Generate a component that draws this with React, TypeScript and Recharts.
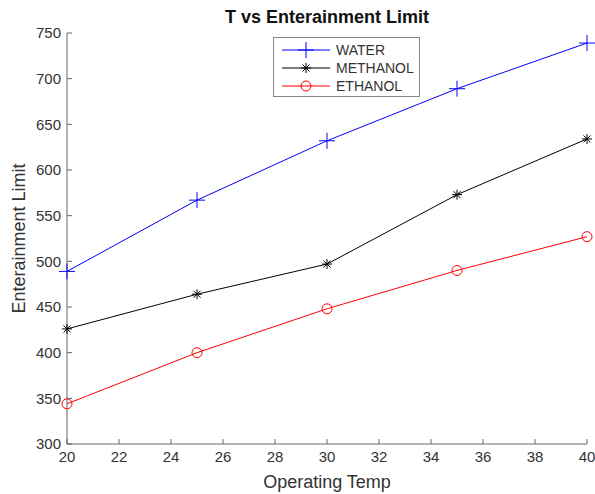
import { CartesianGrid, Line, LineChart, XAxis, YAxis } from "recharts";

const temps = [20, 25, 30, 35, 40];
const water = [489, 567, 632, 689, 739];
const methanol = [426, 464, 497, 573, 634];
const ethanol = [344, 400, 448, 490, 527];
const xTicks = [20, 22, 24, 26, 28, 30, 32, 34, 36, 38, 40];
const yTicks = [300, 350, 400, 450, 500, 550, 600, 650, 700, 750];

const data = temps.map((t, i) => ({
  temp: t,
  water: water[i],
  methanol: methanol[i],
  ethanol: ethanol[i],
}));

type Marker = "plus" | "star" | "circle";

const series: { key: string; name: string; color: string; marker: Marker }[] = [
  { key: "water", name: "WATER", color: "#0000ff", marker: "plus" },
  { key: "methanol", name: "METHANOL", color: "#000000", marker: "star" },
  { key: "ethanol", name: "ETHANOL", color: "#ff0000", marker: "circle" },
];

const FONT = "'Liberation Sans', Arial, sans-serif";
const AXIS = "#666666";
const TEXT = "#333333";

function MarkerShape({ cx, cy, color, marker }: { cx: number; cy: number; color: string; marker: Marker }) {
  if (marker === "plus") {
    return (
      <g stroke={color} strokeWidth={1}>
        <line x1={cx - 8} y1={cy} x2={cx + 8} y2={cy} />
        <line x1={cx} y1={cy - 8} x2={cx} y2={cy + 8} />
      </g>
    );
  }
  if (marker === "star") {
    return (
      <g stroke={color} strokeWidth={1}>
        <line x1={cx - 5} y1={cy} x2={cx + 5} y2={cy} />
        <line x1={cx} y1={cy - 5} x2={cx} y2={cy + 5} />
        <line x1={cx - 3.5} y1={cy - 3.5} x2={cx + 3.5} y2={cy + 3.5} />
        <line x1={cx - 3.5} y1={cy + 3.5} x2={cx + 3.5} y2={cy - 3.5} />
      </g>
    );
  }
  return <circle cx={cx} cy={cy} r={5} fill="none" stroke={color} strokeWidth={1} />;
}

function makeDot(color: string, marker: Marker) {
  return (props: any) => (
    <MarkerShape key={props.key ?? `${props.index}`} cx={props.cx} cy={props.cy} color={color} marker={marker} />
  );
}

function LegendBox() {
  return (
    <div
      style={{
        position: "absolute",
        left: 273,
        top: 37,
        width: 147,
        height: 60,
        border: "1px solid #888",
        background: "#fff",
        fontFamily: FONT,
        fontSize: 14,
        color: TEXT,
        boxSizing: "border-box",
      }}
    >
      {series.map((s, i) => (
        <div
          key={s.key}
          style={{ position: "absolute", left: 0, top: 3 + i * 18, height: 18, display: "flex", alignItems: "center" }}
        >
          <svg width={60} height={18}>
            <line x1={8} y1={9} x2={56} y2={9} stroke={s.color} strokeWidth={1} />
            <MarkerShape cx={32} cy={9} color={s.color} marker={s.marker} />
          </svg>
          <span style={{ marginLeft: 2 }}>{s.name}</span>
        </div>
      ))}
    </div>
  );
}

export default function App() {
  return (
    <div style={{ position: "absolute", left: 0, top: 0, width: 595, height: 494, background: "#fff" }}>
      <div
        style={{
          position: "absolute",
          left: 67,
          width: 520,
          top: 7,
          textAlign: "center",
          fontFamily: FONT,
          fontWeight: "bold",
          fontSize: 18,
          lineHeight: "21px",
          color: "#111",
        }}
      >
        T vs Enterainment Limit
      </div>
      <LineChart width={595} height={494} data={data} margin={{ top: 33, right: 8, bottom: 0, left: 0 }}>
        <CartesianGrid horizontal={false} vertical={false} />
        <XAxis
          dataKey="temp"
          type="number"
          domain={[20, 40]}
          ticks={xTicks}
          height={50}
          tickSize={-5}
          tickMargin={12}
          stroke={AXIS}
          tick={{ fill: TEXT, fontSize: 15, fontFamily: FONT }}
          label={{ value: "Operating Temp", position: "insideBottom", offset: 6, fill: TEXT, fontSize: 18, fontFamily: FONT }}
        />
        <YAxis
          type="number"
          domain={[300, 750]}
          ticks={yTicks}
          width={67}
          tickSize={-5}
          tickMargin={11}
          stroke={AXIS}
          tick={{ fill: TEXT, fontSize: 15, fontFamily: FONT }}
          label={{ value: "Enterainment Limit", angle: -90, position: "insideLeft", offset: 19, fill: TEXT, fontSize: 18, fontFamily: FONT, style: { textAnchor: "middle" } }}
        />
        {series.map((s) => (
          <Line
            key={s.key}
            dataKey={s.key}
            name={s.name}
            type="linear"
            stroke={s.color}
            strokeWidth={1}
            dot={makeDot(s.color, s.marker)}
            activeDot={false}
            isAnimationActive={false}
          />
        ))}
      </LineChart>
      <LegendBox />
    </div>
  );
}
